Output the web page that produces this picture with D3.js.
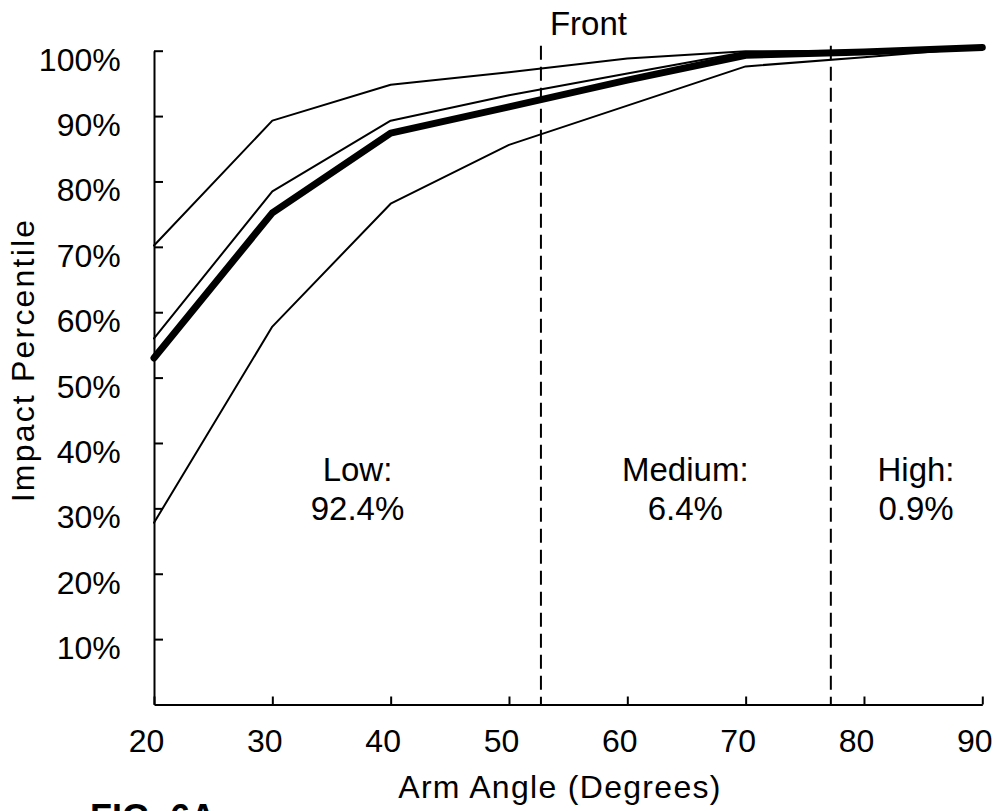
<!DOCTYPE html>
<html>
<head>
<meta charset="utf-8">
<script src="https://cdn.jsdelivr.net/npm/d3@7"></script>
<style>
  body { margin: 0; background: #fff; }
  svg text { font-family: "Liberation Sans", Arial, sans-serif; fill: #000; }
</style>
</head>
<body>
<div id="chart"></div>
<script>
// Chart data
const angles = [20, 30, 40, 50, 60, 70, 80, 90];
const upperBound = [70.2, 89.3, 94.8, 96.7, 98.8, 99.9, 100.0, 100.5];
const upperMid = [56.0, 78.5, 89.3, 93.2, 96.5, 99.8, 99.9, 100.5];
const median = [53.0, 75.2, 87.4, 91.4, 95.5, 99.3, 99.8, 100.5];
const lowerBound = [27.8, 57.8, 76.6, 85.6, 91.6, 97.6, 99.0, 100.5];

const xTicks = [20, 30, 40, 50, 60, 70, 80, 90];
const yTicks = [10, 20, 30, 40, 50, 60, 70, 80, 90, 100];

const thresholds = [52.7, 77.2]; // dashed boundaries
const regionNames = ["Low:", "Medium:", "High:"];
const regionShares = ["92.4%", "6.4%", "0.9%"];
const regionCenters = [37.2, 64.9, 84.4];

// Layout
const width = 998, height = 811;
const margin = { top: 50.7, right: 15.7, bottom: 106.5, left: 154 };

const svg = d3.select("#chart").append("svg")
    .attr("width", width)
    .attr("height", height);

const x = d3.scaleLinear()
    .domain([20, 90])
    .range([margin.left, width - margin.right]);

const y = d3.scaleLinear()
    .domain([0, 100])
    .range([height - margin.bottom, margin.top]);

// X axis, ticks pointing inward
const xAxis = svg.append("g")
    .attr("transform", `translate(0,${y(0)})`)
    .call(d3.axisBottom(x).tickValues(xTicks).tickSizeInner(-8).tickSizeOuter(0).tickFormat(d3.format("d")));

xAxis.selectAll("text")
    .attr("dy", null)
    .attr("y", 47.5)
    .attr("x", -8)
    .style("font-size", "32px");

// Y axis
const yAxis = svg.append("g")
    .attr("transform", `translate(${x(20)},0)`)
    .call(d3.axisLeft(y).tickValues(yTicks).tickSizeInner(-9).tickSizeOuter(0).tickPadding(33.3).tickFormat(d => d + "%"));

yAxis.selectAll("text")
    .attr("dy", null)
    .attr("y", 19.5)
    .style("font-size", "32px");

svg.selectAll(".domain, .tick line")
    .attr("stroke", "#000")
    .attr("stroke-width", 2);

// Dashed region boundaries
svg.selectAll(".threshold")
    .data(thresholds)
    .join("line")
    .attr("class", "threshold")
    .attr("x1", d => x(d))
    .attr("x2", d => x(d))
    .attr("y1", y(100) - 5)
    .attr("y2", y(0))
    .attr("stroke", "#000")
    .attr("stroke-width", 2)
    .attr("stroke-dasharray", "14,7");

svg.append("text")
    .attr("x", x(thresholds[0]) + 9)
    .attr("y", 35)
    .style("font-size", "33px")
    .text("Front");

// Region labels
const regions = svg.selectAll(".region")
    .data(regionNames)
    .join("text")
    .attr("class", "region")
    .attr("text-anchor", "middle")
    .attr("x", (d, i) => x(regionCenters[i]))
    .attr("y", 481)
    .style("font-size", "33px");

regions.append("tspan").text(d => d);
regions.append("tspan")
    .attr("x", (d, i) => x(regionCenters[i]))
    .attr("dy", 39)
    .text((d, i) => regionShares[i]);

// Percentile curves
const line = d3.line()
    .x((d, i) => x(angles[i]))
    .y(d => y(d));

const series = [
    { values: upperBound, w: 2 },
    { values: upperMid, w: 2 },
    { values: lowerBound, w: 2 },
    { values: median, w: 7 }
];

svg.selectAll(".curve")
    .data(series)
    .join("path")
    .attr("class", "curve")
    .attr("d", d => line(d.values))
    .attr("fill", "none")
    .attr("stroke", "#000")
    .attr("stroke-width", d => d.w)
    .attr("stroke-linejoin", "round")
    .attr("stroke-linecap", "round");

// Axis titles
svg.append("text")
    .attr("text-anchor", "middle")
    .attr("x", 560)
    .attr("y", 798)
    .style("font-size", "32px")
    .style("letter-spacing", "1.3px")
    .text("Arm Angle (Degrees)");

svg.append("text")
    .attr("text-anchor", "middle")
    .attr("transform", "translate(34,360) rotate(-90)")
    .style("font-size", "32px")
    .style("letter-spacing", "2.2px")
    .text("Impact Percentile");

// Figure caption, cut by the bottom edge
svg.append("text")
    .attr("x", 90)
    .attr("y", 830)
    .style("font-size", "36px")
    .style("font-weight", "bold")
    .text("FIG. 6A");
</script>
</body>
</html>
